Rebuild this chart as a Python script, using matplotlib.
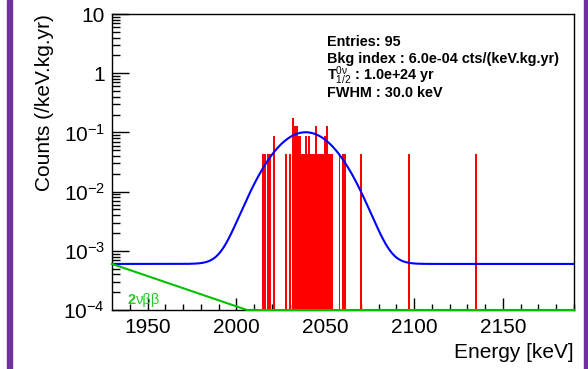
import numpy as np
import matplotlib
matplotlib.use("Agg")
import matplotlib.pyplot as plt
from matplotlib.patches import Rectangle
from matplotlib.ticker import FixedLocator, FuncFormatter

plt.rcParams['font.family'] = ['Liberation Sans', 'DejaVu Sans']
plt.rcParams['mathtext.fontset'] = 'custom'
plt.rcParams['mathtext.rm'] = 'Liberation Sans'
plt.rcParams['mathtext.it'] = 'Liberation Sans:italic'
plt.rcParams['mathtext.bf'] = 'Liberation Sans:bold'

# event histogram (1 keV bins)
bin_energy = [2015, 2016, 2018, 2019, 2021, 2028, 2030, 2032, 2033, 2034,
              2035, 2036, 2037, 2038, 2039, 2040, 2041, 2042, 2043, 2044,
              2045, 2046, 2047, 2048, 2049, 2050, 2051, 2052, 2053, 2054,
              2058, 2060, 2061, 2070, 2097, 2135]
bin_counts = [1, 1, 1, 1, 2, 1, 1, 4, 3, 3,
              2, 2, 1, 1, 2, 1, 2, 1, 1, 1,
              3, 1, 1, 1, 1, 2, 3, 1, 1, 1,
              1, 1, 1, 1, 1, 1]
per_count = 0.0432

# fit model: flat background + gaussian peak
q_value = 2039.0
fwhm = 30.0
sigma_draw = 14.3
peak_height = 0.1
bkg_index = 6.0e-4

# 2nu beta beta tail
tnbb_start = 1930.0
tnbb_norm = 6.0e-4
tnbb_end = 2006.0
y_floor = 1e-4

xmin, xmax = 1930, 2190

fig = plt.figure(figsize=(5.88, 3.69), dpi=100)
ax = fig.add_axes([112/588, 1-310/369, (574-112)/588, (310-14)/369])

ax.bar(bin_energy, np.array(bin_counts)*per_count, width=1.0, bottom=1e-6,
       color='red', edgecolor='none', zorder=2)

e = np.linspace(xmin, xmax, 600)
model = bkg_index + peak_height*np.exp(-0.5*((e-q_value)/sigma_draw)**2)
ax.plot(e, model, color='#0000ff', lw=1.5, zorder=3)

tau = (tnbb_end - tnbb_start)/np.log(tnbb_norm/y_floor)
tnbb = np.maximum(tnbb_norm*np.exp(-(e-tnbb_start)/tau), y_floor)
ax.plot(e, tnbb, color='#00c000', lw=1.5, zorder=4, clip_on=False)

ax.set_yscale('log')
ax.set_xlim(xmin, xmax)
ax.set_ylim(1e-4, 10)

ax.xaxis.set_major_locator(FixedLocator([1950, 2000, 2050, 2100, 2150]))
ax.xaxis.set_minor_locator(FixedLocator(np.arange(1940, 2191, 10)))

def ylab(v, pos):
    if v >= 10:
        return '10'
    if v >= 1:
        return '1'
    return r'$10^{%d}$' % round(np.log10(v))
ax.yaxis.set_major_formatter(FuncFormatter(ylab))

ax.tick_params(which='both', direction='in', top=False, right=False,
               labelsize=15, width=1.0)
ax.tick_params(axis='y', which='major', length=12, pad=5)
ax.tick_params(axis='y', which='minor', length=6)
ax.tick_params(axis='x', which='major', length=9, pad=6)
ax.tick_params(axis='x', which='minor', length=4.5)
for s in ax.spines.values():
    s.set_linewidth(1.0)

ax.set_ylabel('Counts (/keV.kg.yr)', fontsize=15, loc='top', labelpad=7)
ax.set_xlabel('Energy [keV]', fontsize=15, loc='right', labelpad=4)

stats = ['Entries: 95',
         'Bkg index : 6.0e-04 cts/(keV.kg.yr)',
         r'T$^{\mathrm{0ν}}_{1/2}$ : 1.0e+24 yr',
         'FWHM : 30.0 keV']
for i, line in enumerate(stats):
    fig.text(327/588, 1-(41.5+17.3*i)/369, line, fontsize=10.4,
             fontweight='bold', va='center', ha='left')

ax.text(1938.5, 1.45e-4, '2', color='#22cc22', fontsize=10.5,
        fontweight='bold', va='center', ha='left')
ax.text(1943.3, 1.45e-4, 'νββ', color='#22cc22', fontsize=10.5,
        va='center', ha='left')

purple = '#7030a0'
fig.patches.append(Rectangle((7/588, 0), 5/588, 1, transform=fig.transFigure,
                             color=purple, zorder=0))
fig.patches.append(Rectangle((584/588, 0), 4/588, 1, transform=fig.transFigure,
                             color=purple, zorder=0))

fig.savefig('out.png', dpi=100)
